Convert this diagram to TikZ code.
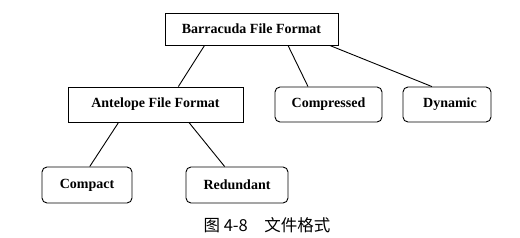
\documentclass[tikz,border=0pt]{standalone}
\usepackage{fontspec}
\setmainfont{Liberation Serif}
\newfontfamily\cjk{Noto Sans CJK SC}
\usetikzlibrary{calc}
\begin{document}
\begin{tikzpicture}[x=1pt,y=1pt,
  box/.style={draw,line width=0.9pt,inner sep=0pt,font=\bfseries\fontsize{14}{16}\selectfont},
  rbox/.style={box,rounded corners=5pt},
  conn/.style={line width=0.9pt}]
\useasboundingbox (0,0) rectangle (520,238);
\node[box,minimum width=173,minimum height=32] (barr) at (251.5,209) {Barracuda File Format};
\node[box,minimum width=175,minimum height=35] (ante) at (155.5,133.5) {Antelope File Format};
\node[rbox,minimum width=107,minimum height=35] (comp) at (328.5,133.5) {Compressed};
\node[rbox,minimum width=88,minimum height=35] (dyn) at (447,133.5) {\hspace{6pt}Dynamic};
\node[rbox,minimum width=90,minimum height=36] (cpt) at (87,53) {Compact};
\node[rbox,minimum width=102,minimum height=36] (red) at (237,53) {Redundant};
\node[font=\cjk\fontsize{16.5}{18}\selectfont] (cap) at (267,12.5) {图 4-8\quad 文件格式};
\draw[conn] ($(barr.south west)!0.23!(barr.south east)$) -- ($(ante.north west)!0.63!(ante.north east)$);
\draw[conn] ($(barr.south west)!0.71!(barr.south east)$) -- ($(comp.north west)!0.31!(comp.north east)$);
\draw[conn] ($(barr.south west)!0.95!(barr.south east)$) -- ($(dyn.north west)!0.33!(dyn.north east)$);
\draw[conn] ($(ante.south west)!0.29!(ante.south east)$) -- ($(cpt.north west)!0.53!(cpt.north east)$);
\draw[conn] ($(ante.south west)!0.69!(ante.south east)$) -- ($(red.north west)!0.38!(red.north east)$);
\end{tikzpicture}
\end{document}
